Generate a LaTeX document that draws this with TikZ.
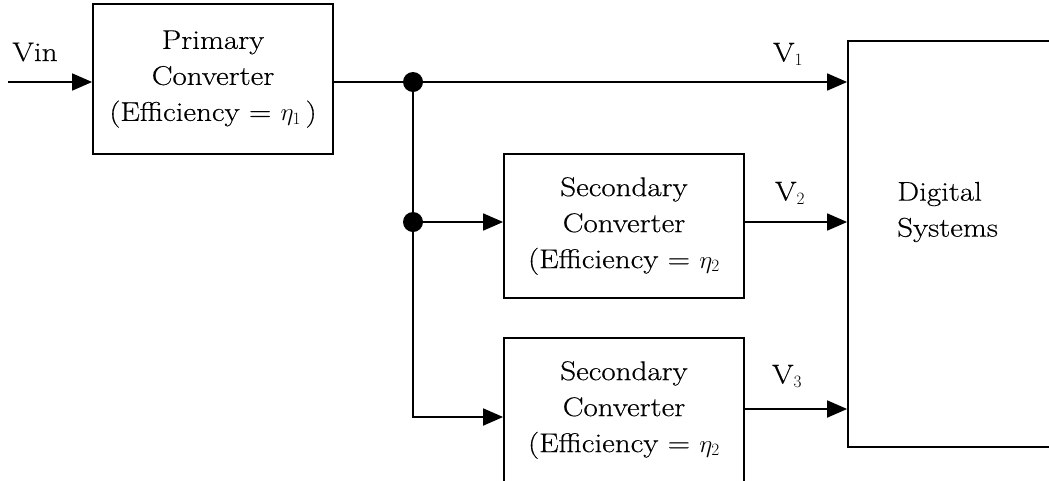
\documentclass[tikz,border=0pt]{standalone}
\usepackage{fontspec}
\setmainfont{Latin Modern Roman}[FakeStretch=1.15,FakeBold=0.4]
\usetikzlibrary{arrows.meta}
\begin{document}
\begin{tikzpicture}[x=1pt,y=-1pt,
  every node/.style={font=\fontsize{27}{36}\selectfont},
  box/.style={draw,line width=1.8pt,align=center,inner sep=0pt},
  dot/.style={circle,fill=black,minimum size=20pt,inner sep=0pt},
  ln/.style={line width=1.8pt},
  arr/.style={line width=1.8pt,-{Triangle[length=20pt,width=17pt]}}]
\useasboundingbox (0,0) rectangle (1049,480);
% blocks
\node[box,minimum width=240,minimum height=150] (pc) at (213,79)
  {Primary\\Converter\\(Efficiency = $\eta_1$\,)};
\node[box,minimum width=240,minimum height=144] (s2) at (624,226)
  {Secondary\\Converter\\(Efficiency = $\eta_2$};
\node[box,minimum width=240,minimum height=144] (s3) at (624,410)
  {Secondary\\Converter\\(Efficiency = $\eta_2$};
\node[box,minimum width=240,minimum height=406] (ds) at (968,244) {};
\node[align=left,anchor=west,inner sep=0pt] (dst) at (897,212) {Digital\\Systems};
% junctions
\node[dot] (j1) at (413,82) {};
\node[dot] (j2) at (413,222) {};
\coordinate (vin) at (8,82);
\coordinate (c3) at (413,417);
\coordinate (o3) at (744,409);
% labels
\node (lvin) at (35,52) {Vin};
\node (lv1) at (788,54) {V$_1$};
\node (lv2) at (790,193) {V$_2$};
\node (lv3) at (787,376) {V$_3$};
% connectors
\draw[arr] (vin) -- (vin -| pc.west);
\draw[ln] (pc.east |- j1) -- (j1.center);
\draw[arr] (j1.center) -- (j1 -| ds.west);
\draw[arr] (j1.center) -- (c3) -- (c3 -| s3.west);
\draw[arr] (j2.center) -- (j2 -| s2.west);
\draw[arr] (s2.east |- j2) -- (j2 -| ds.west);
\draw[arr] (s3.east |- o3) -- (o3 -| ds.west);
\end{tikzpicture}
\end{document}
